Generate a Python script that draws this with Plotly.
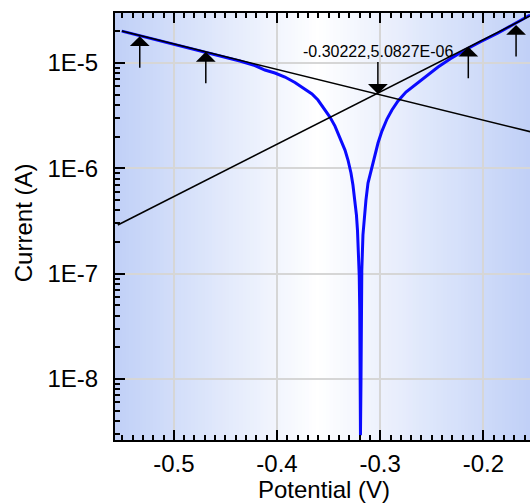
import math
import plotly.graph_objects as go

# ---- data ----
potential = [-0.5504, -0.5233, -0.4942, -0.4690, -0.4505, -0.4360, -0.4214, -0.4117,
             -0.4020, -0.3923, -0.3826, -0.3729, -0.3661, -0.3603, -0.3545, -0.3487,
             -0.3438, -0.3390, -0.3341, -0.3312, -0.3283, -0.3264, -0.3244, -0.3230,
             -0.3220, -0.3210, -0.3203, -0.3198, -0.3194, -0.3191,
             -0.3186, -0.3184, -0.3178, -0.3167, -0.3157, -0.3138, -0.3118, -0.3089,
             -0.3050, -0.3021, -0.2983, -0.2934, -0.2886, -0.2827, -0.2750, -0.2662,
             -0.2556, -0.2439, -0.2323, -0.2177, -0.2032, -0.1857, -0.1702, -0.1547]
current = [2.01e-5, 1.727e-5, 1.466e-5, 1.272e-5, 1.140e-5, 1.045e-5, 9.47e-6, 8.58e-6,
           8.04e-6, 7.36e-6, 6.53e-6, 5.66e-6, 5.08e-6, 4.45e-6, 3.74e-6, 3.07e-6,
           2.52e-6, 1.98e-6, 1.49e-6, 1.20e-6, 9.03e-7, 6.94e-7, 5.00e-7, 3.60e-7,
           2.59e-7, 1.68e-7, 9.70e-8, 4.51e-8, 1.51e-8, 2.93e-9,
           9.76e-9, 2.91e-8, 1.08e-7, 2.33e-7, 3.23e-7, 5.00e-7, 7.25e-7, 9.63e-7,
           1.34e-6, 1.74e-6, 2.26e-6, 2.94e-6, 3.58e-6, 4.36e-6, 5.30e-6, 6.18e-6,
           7.52e-6, 9.16e-6, 1.091e-5, 1.329e-5, 1.583e-5, 1.927e-5, 2.346e-5, 2.856e-5]

cathodic_x = [-0.5504, -0.1547]
cathodic_y = [2.01e-5, 2.23e-6]
anodic_x = [-0.5543, -0.1547]
anodic_y = [2.9e-7, 2.8e-5]

arrow_x = [-0.533, -0.469, -0.2146, -0.1683]
arrow_y = [1.80e-5, 1.28e-5, 1.43e-5, 2.30e-5]

ecorr = -0.30222
icorr = 5.0827e-6
intersection_label = "-0.30222,5.0827E-06"

x_ticks = [-0.5, -0.4, -0.3, -0.2]
x_tick_labels = ["-0.5", "-0.4", "-0.3", "-0.2"]
y_ticks = [1e-8, 1e-7, 1e-6, 1e-5]
y_tick_labels = ["1E-8", "1E-7", "1E-6", "1E-5"]

FONT = "Liberation Sans, Arial, sans-serif"

fig = go.Figure()
fig.add_trace(go.Scatter(x=potential, y=current, mode="lines",
                         line=dict(color="#0a0aff", width=3), hoverinfo="skip"))
fig.add_trace(go.Scatter(x=cathodic_x, y=cathodic_y, mode="lines",
                         line=dict(color="black", width=1.5), hoverinfo="skip"))
fig.add_trace(go.Scatter(x=anodic_x, y=anodic_y, mode="lines",
                         line=dict(color="black", width=1.5), hoverinfo="skip"))

# gradient background (blue edges -> white centre)
edge = (192, 208, 247)
t0 = 0.49
n = 120
shapes = []
for i in range(n):
    t = (i + 0.5) / n
    d = (t0 - t) / t0 if t < t0 else (t - t0) / (1 - t0)
    c = tuple(round(255 - (255 - e) * d) for e in edge)
    shapes.append(dict(type="rect", xref="paper", yref="paper",
                       x0=i / n, x1=(i + 1) / n + 0.002, y0=0, y1=1,
                       fillcolor="rgb(%d,%d,%d)" % c, line=dict(width=0),
                       layer="below"))

annotations = []
for ax_, ay_ in zip(arrow_x, arrow_y):
    annotations.append(dict(x=ax_, y=math.log10(ay_), xref="x", yref="y", text="",
                            showarrow=True, ax=0, ay=33, arrowhead=1,
                            arrowsize=2.2, arrowwidth=1.5, arrowcolor="black"))
annotations.append(dict(x=ecorr, y=math.log10(icorr), xref="x", yref="y",
                        text=intersection_label, showarrow=True, ax=0, ay=-42,
                        arrowhead=1, arrowsize=2.2, arrowwidth=1.5, arrowcolor="black",
                        font=dict(family=FONT, size=16, color="black")))
annotations.append(dict(x=-0.2217, y=0.51, xref="paper", yref="paper",
                        text="Current (A)", textangle=-90, showarrow=False,
                        xanchor="center", yanchor="middle",
                        font=dict(family=FONT, size=24, color="black")))
annotations.append(dict(x=0.504, y=-0.117, xref="paper", yref="paper",
                        text="Potential (V)", showarrow=False,
                        xanchor="center", yanchor="middle",
                        font=dict(family=FONT, size=24, color="black")))

fig.update_layout(
    width=530, height=503,
    margin=dict(l=115, r=0, t=13, b=63, autoexpand=False),
    paper_bgcolor="white", plot_bgcolor="white",
    showlegend=False,
    shapes=shapes, annotations=annotations,
    font=dict(family=FONT, size=24, color="black"),
)
fig.update_xaxes(
    range=[-0.557, -0.1548], tickvals=x_ticks, ticktext=x_tick_labels,
    automargin=False,
    showgrid=True, gridcolor="#d6d6d6", gridwidth=2, zeroline=False,
    showline=True, linecolor="black", linewidth=2, mirror="ticks",
    ticks="inside", ticklen=10, tickwidth=2, tickcolor="black",
    ticklabelstandoff=1,
    minor=dict(dtick=0.01, ticks="inside", ticklen=5, tickwidth=1.5,
               tickcolor="black", showgrid=False),
    tickfont=dict(family=FONT, size=24, color="black"),
)
fig.update_yaxes(
    type="log", range=[-8.579, -4.525], tickvals=y_ticks, ticktext=y_tick_labels,
    automargin=False,
    showgrid=True, gridcolor="#d6d6d6", gridwidth=2, zeroline=False,
    showline=True, linecolor="black", linewidth=2, mirror=False,
    ticks="inside", ticklen=10, tickwidth=2, tickcolor="black",
    ticklabelstandoff=10,
    minor=dict(dtick="D1", ticks="inside", ticklen=5, tickwidth=1.5,
               tickcolor="black", showgrid=False),
    tickfont=dict(family=FONT, size=24, color="black"),
)

fig.write_html("out.html", config={"displayModeBar": False},
               post_script="document.body.style.margin='0';"
                           "document.body.style.overflow='hidden';")
